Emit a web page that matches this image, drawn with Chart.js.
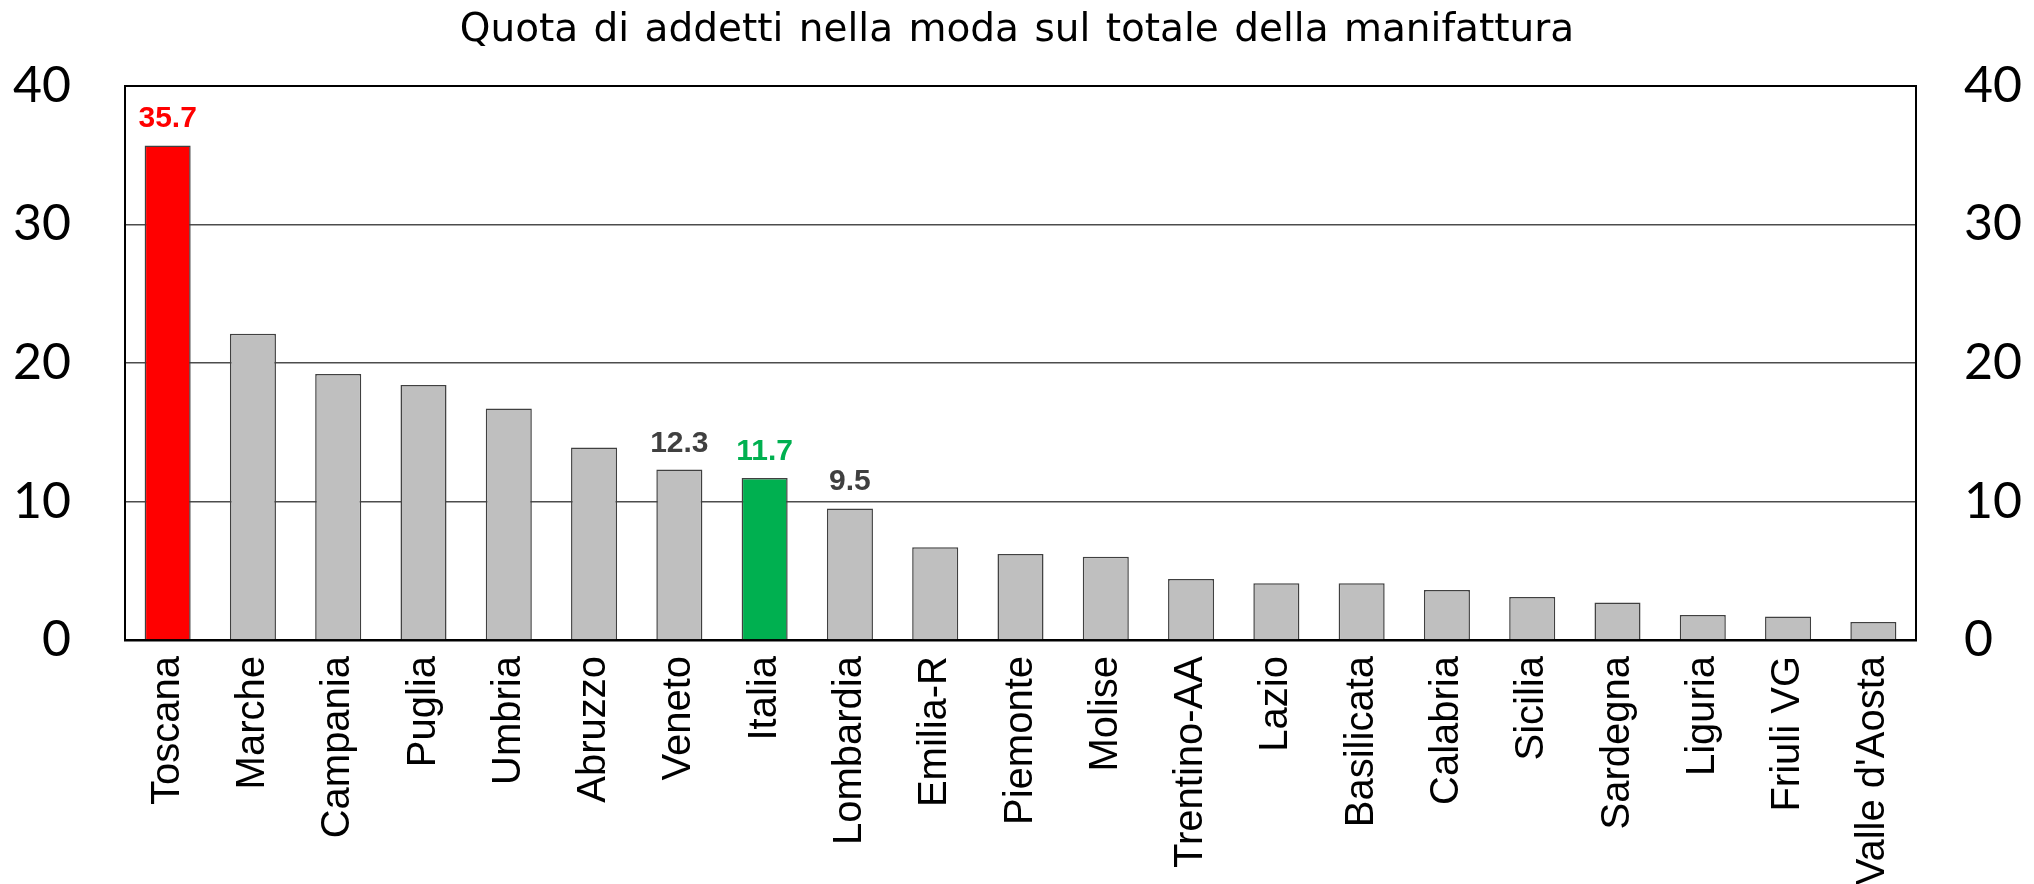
<!DOCTYPE html>
<html>
<head>
<meta charset="utf-8">
<script src="https://cdn.jsdelivr.net/npm/chart.js@4/dist/chart.umd.min.js"></script>
<style>
  html, body { margin: 0; padding: 0; background: #fff; }
  canvas { display: block; }
</style>
</head>
<body>
<canvas id="myChart" width="2034" height="884"></canvas>
<script>
const regions = [
  "Toscana", "Marche", "Campania", "Puglia", "Umbria", "Abruzzo", "Veneto",
  "Italia", "Lombardia", "Emilia-R", "Piemonte", "Molise", "Trentino-AA",
  "Lazio", "Basilicata", "Calabria", "Sicilia", "Sardegna", "Liguria",
  "Friuli VG", "Valle d'Aosta",
];
const shares = [
  35.7, 22.1, 19.2, 18.4, 16.7, 13.9, 12.3, 11.7, 9.5, 6.7, 6.2, 6.0, 4.4,
  4.1, 4.1, 3.6, 3.1, 2.7, 1.8, 1.7, 1.3,
];
const yTicks = [0, 10, 20, 30, 40];
const labelled = ["Toscana", "Veneto", "Italia", "Lombardia"];
const title = "Quota di addetti nella moda sul totale della manifattura";

const RED = "#ff0000";
const GREEN = "#00b050";
const GREY = "#bfbfbf";

const barColors = regions.map((r) =>
  r === "Toscana" ? RED : r === "Italia" ? GREEN : GREY
);
const labelColors = regions.map((r) =>
  r === "Toscana" ? RED : r === "Italia" ? GREEN : "#404040"
);

// the title in the original has wide gaps between words
const titleSpacing = {
  id: "titleSpacing",
  beforeDraw(chart) {
    chart.ctx.wordSpacing = "3px";
  },
  beforeDatasetsDraw(chart) {
    chart.ctx.wordSpacing = "0px";
  },
};

const valueLabels = {
  id: "valueLabels",
  afterDatasetsDraw(chart) {
    const ctx = chart.ctx;
    const meta = chart.getDatasetMeta(0);
    ctx.save();
    ctx.font = "bold 30px 'Liberation Sans', Arial, sans-serif";
    ctx.textAlign = "center";
    ctx.textBaseline = "alphabetic";
    regions.forEach((r, i) => {
      if (!labelled.includes(r)) return;
      const bar = meta.data[i];
      ctx.fillStyle = labelColors[i];
      ctx.fillText(shares[i].toFixed(1), bar.x, bar.y - 18);
    });
    ctx.restore();
  },
};

const tickFont = { family: "Lato, 'Liberation Sans', sans-serif", size: 50 };

new Chart(document.getElementById("myChart"), {
  type: "bar",
  data: {
    labels: regions,
    datasets: [
      {
        data: shares,
        backgroundColor: barColors,
        borderColor: "#404040",
        borderWidth: 1.5,
        barPercentage: 0.54,
        categoryPercentage: 1,
      },
    ],
  },
  options: {
    responsive: false,
    animation: false,
    layout: { padding: 0 },
    plugins: {
      legend: { display: false },
      tooltip: { enabled: false },
      title: {
        display: true,
        text: title,
        color: "#000",
        font: { family: "'DejaVu Sans', sans-serif", size: 39, weight: "normal" },
        padding: { top: 7, bottom: 32 },
      },
    },
    scales: {
      x: {
        afterFit: (scale) => {
          scale.height = 244;
        },
        grid: { display: false },
        border: { display: true, color: "#000", width: 2.5 },
        ticks: {
          z: 1,
          color: "#000",
          autoSkip: false,
          maxRotation: 90,
          minRotation: 90,
          padding: 8,
          font: { family: "'Liberation Sans', Arial, sans-serif", size: 40 },
        },
      },
      y: {
        position: "left",
        min: 0,
        max: 40,
        afterBuildTicks: (axis) => {
          axis.ticks = yTicks.map((v) => ({ value: v }));
        },
        afterFit: (scale) => {
          scale.width = 125;
        },
        grid: {
          drawTicks: false,
          color: (c) => (c.tick && c.tick.value === 40 ? "#000" : "#4d4d4d"),
          lineWidth: (c) => (c.tick && c.tick.value === 40 ? 2 : 1.5),
        },
        border: { display: true, color: "#000", width: 2 },
        ticks: { z: 1, color: "#000", padding: 54, font: tickFont },
      },
      y2: {
        position: "right",
        min: 0,
        max: 40,
        afterBuildTicks: (axis) => {
          axis.ticks = yTicks.map((v) => ({ value: v }));
        },
        afterFit: (scale) => {
          scale.width = 118;
        },
        grid: { drawOnChartArea: false, drawTicks: false },
        border: { display: true, color: "#000", width: 2 },
        ticks: { z: 1, color: "#000", padding: 48, font: tickFont },
      },
    },
  },
  plugins: [titleSpacing, valueLabels],
});
</script>
</body>
</html>
